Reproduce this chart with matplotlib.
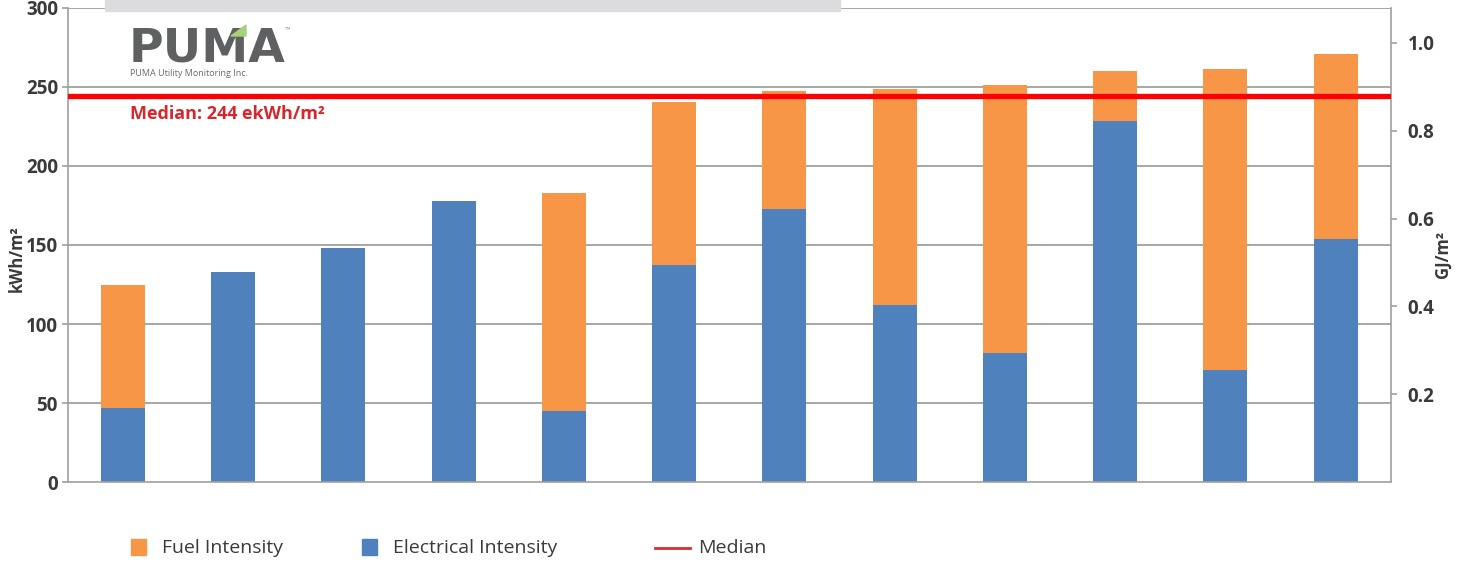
import numpy as np
import matplotlib
matplotlib.use("Agg")
import matplotlib.pyplot as plt
from matplotlib.patches import Rectangle, Polygon
from matplotlib.lines import Line2D
import matplotlib.transforms as mtransforms

plt.rcParams['font.family'] = ['Open Sans', 'DejaVu Sans']

# data (kWh/m2)
buildings = list(range(1, 13))
electrical = [47, 133, 148, 177.5, 45, 137.5, 172.5, 112, 82, 228.5, 71, 154]
fuel = [77.5, 0, 0, 0, 138, 103, 75, 136.5, 169, 31.5, 190, 116.5]
median_value = 244
median_line = 244.3
kwh_ticks = [0, 50, 100, 150, 200, 250, 300]
gj_ticks = [0.2, 0.4, 0.6, 0.8, 1.0]
kwh_to_gj = 0.0036

orange = '#F79646'
blue = '#4F81BD'
grid_c = '#A0A0A0'
text_c = '#3A3A3A'

W, H = 1465, 562
fig = plt.figure(figsize=(W / 100, H / 100), dpi=100)
ax = fig.add_axes([67.7 / W, 1 - 482.3 / H, (1390.7 - 67.7) / W, (482.3 - 7.5) / H])

x = np.arange(len(buildings))
ax.bar(x, electrical, width=0.4, color=blue, zorder=2, edgecolor='none')
ax.bar(x, fuel, width=0.4, bottom=electrical, color=orange, zorder=2, edgecolor='none')
ax.axhline(median_line, color='#FF0000', lw=3.8, zorder=4)

ax.set_xlim(-0.5, len(buildings) - 0.5)
ax.set_ylim(0, 300)
ax.set_yticks(kwh_ticks)
ax.set_xticks([])
ax.tick_params(axis='x', which='both', bottom=False, labelbottom=False)
for v in kwh_ticks[1:]:
    ax.axhline(v, color=grid_c, lw=1.3, zorder=1)

for s in ['left', 'right', 'bottom']:
    ax.spines[s].set_color(grid_c)
    ax.spines[s].set_linewidth(1.2)
ax.spines['top'].set_visible(False)
ax.tick_params(axis='y', colors=grid_c, length=4, width=1.2, pad=3,
               labelcolor=text_c, labelsize=13.5)
for lb in ax.get_yticklabels():
    lb.set_fontweight('bold')
ax.set_ylabel('kWh/m²', fontsize=12, fontweight='bold', color=text_c, va='center')
ax.yaxis.set_label_coords(-0.0383, 0.472)

ax2 = ax.twinx()
ax2.set_ylim(0, 300 * kwh_to_gj)
ax2.set_yticks(gj_ticks)
ax2.set_yticklabels([f'{t:.1f}' for t in gj_ticks])
for s in ['left', 'right', 'bottom', 'top']:
    ax2.spines[s].set_visible(False)
ax2.tick_params(axis='x', which='both', bottom=False, top=False, labelbottom=False)
ax2.tick_params(axis='y', colors=grid_c, length=4, width=1.2, pad=8,
                labelcolor=text_c, labelsize=13.5)
for lb in ax2.get_yticklabels():
    lb.set_fontweight('bold')
ax2.set_ylabel('GJ/m²', fontsize=12, fontweight='bold', color=text_c, rotation=90, va='center')
ax2.yaxis.set_label_coords(1.0396, 0.479)

# median annotation
trans = mtransforms.blended_transform_factory(ax.transAxes, ax.transData)
ax.text(0.047, 233, f'Median: {median_value} ekWh/m²', transform=trans,
        color='#D9262D', fontsize=13, fontweight='bold', va='center', ha='left', zorder=5)

# gray strip at top
fig.patches.append(Rectangle((105 / W, 1 - 11 / H), (840 - 105) / W, 11 / H,
                             transform=fig.transFigure, color='#DCDCDE', zorder=5))

# logo
fig.text(129 / W, 1 - 62 / H, 'PUMA', fontsize=34, fontweight='bold',
         family=['DejaVu Sans'], color='#5F6062', ha='left', va='baseline')
fig.patches.append(Polygon([(231 / W, 1 - 36 / H), (246 / W, 1 - 25 / H), (246 / W, 1 - 36 / H)],
                           closed=True, transform=fig.transFigure, color='#A5D17A', zorder=6))
fig.text(285 / W, 1 - 30 / H, '™', fontsize=5, color='#909090', ha='left', va='center')
fig.text(130 / W, 1 - 73 / H, 'PUMA Utility Monitoring Inc.', fontsize=6.5,
         color='#6A6A6A', ha='left', va='center')

# legend
ly = 1 - 548 / H
fig.patches.append(Rectangle((131 / W, 1 - 555 / H), 15 / W, 16 / H,
                             transform=fig.transFigure, color=orange))
fig.text(162 / W, ly, 'Fuel Intensity', fontsize=14, color=text_c, va='center', ha='left')
fig.patches.append(Rectangle((362 / W, 1 - 555 / H), 15 / W, 16 / H,
                             transform=fig.transFigure, color=blue))
fig.text(393 / W, ly, 'Electrical Intensity', fontsize=14, color=text_c, va='center', ha='left')
fig.lines.append(Line2D([655 / W, 690 / W], [ly, ly], transform=fig.transFigure,
                        color='#E0282E', lw=2))
fig.text(698 / W, ly, 'Median', fontsize=14, color=text_c, va='center', ha='left')

fig.savefig('out.png', dpi=100)
